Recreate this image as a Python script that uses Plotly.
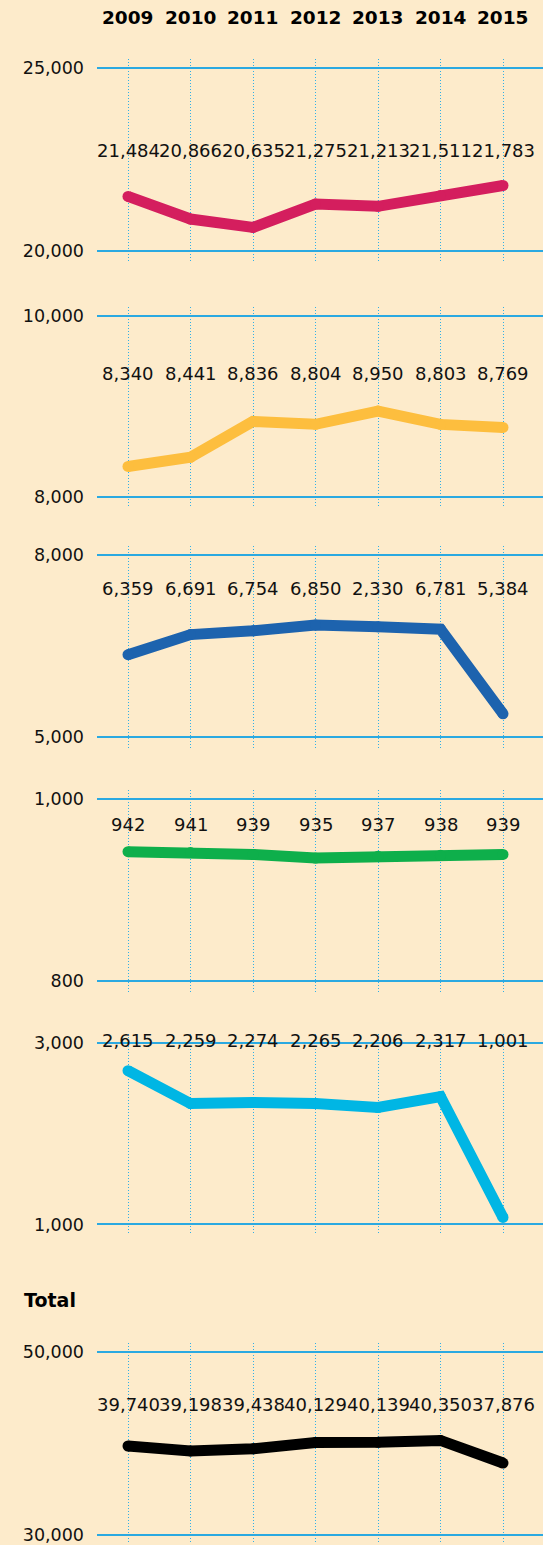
import plotly.graph_objects as go

# ---------------- data ----------------
years = ["2009", "2010", "2011", "2012", "2013", "2014", "2015"]

red_values = [21484, 20866, 20635, 21275, 21213, 21511, 21783]
red_labels = [21484, 20866, 20635, 21275, 21213, 21511, 21783]

yellow_values = [8340, 8441, 8836, 8804, 8950, 8803, 8769]
yellow_labels = [8340, 8441, 8836, 8804, 8950, 8803, 8769]

blue_values = [6359, 6691, 6754, 6850, 6820, 6781, 5384]
blue_labels = [6359, 6691, 6754, 6850, 2330, 6781, 5384]

green_values = [942, 941, 939, 935, 937, 938, 939]
green_labels = [942, 941, 939, 935, 937, 938, 939]

cyan_values = [2692, 2330, 2341, 2330, 2286, 2407, 1077]
cyan_labels = [2615, 2259, 2274, 2265, 2206, 2317, 1001]

total_values = [39740, 39198, 39438, 40129, 40139, 40350, 37876]
total_labels = [39740, 39198, 39438, 40129, 40139, 40350, 37876]

axis_ticks = [(20000, 25000), (8000, 10000), (5000, 8000), (800, 1000), (1000, 3000), (30000, 50000)]

# ---------------- layout constants (pixels) ----------------
W, H = 543, 1545
BG = "#FDEBCB"
GRID = "#2BA9E1"
VGRID = "#2FB0E8"
FONT = "DejaVu Sans"

panels = [
    # (top, bottom, grid_top, grid_bottom, label_y)
    (58, 261, 67, 250, 150),
    (306, 508, 315, 497, 373),
    (546, 749, 555, 737, 588),
    (790, 992, 799, 981, 825),
    (1034, 1236, 1043, 1225, 1041),
    (1344, 1545, 1353, 1536, 1405),
]
series = [
    (red_values, red_labels, "#D41E5E"),
    (yellow_values, yellow_labels, "#FDBE3E"),
    (blue_values, blue_labels, "#1D63AE"),
    (green_values, green_labels, "#0EAF4B"),
    (cyan_values, cyan_labels, "#00B6E4"),
    (total_values, total_labels, "#000000"),
]

PLOT_LEFT = 97


def py(px):
    return 1 - px / H


fig = go.Figure()
annotations = []

for i, ((vals, labs, color), (top, bot, gt, gb, ly), (lo, hi)) in enumerate(zip(series, panels, axis_ticks)):
    n = "" if i == 0 else str(i + 1)
    fig.add_trace(go.Scatter(
        x=years, y=vals, mode="lines+markers",
        line=dict(color=color, width=11),
        marker=dict(color=color, size=11),
        xaxis="x" + n, yaxis="y" + n, showlegend=False, hoverinfo="skip",
    ))
    per = (hi - lo) / (gb - gt)
    yr = [lo - (bot - gb) * per, hi + (gt - top) * per]
    fig.update_layout(**{
        "xaxis" + n: dict(
            domain=[PLOT_LEFT / W, 1], range=[-0.496, 6.64], type="category",
            showgrid=True, griddash="1px,2px", gridcolor=VGRID, gridwidth=1,
            showticklabels=False, zeroline=False, showline=False,
            anchor="y" + n, fixedrange=True,
        ),
        "yaxis" + n: dict(
            domain=[py(bot), py(top)], range=yr,
            tickvals=[lo, hi], ticktext=[f"{lo:,}", f"{hi:,}"],
            tickfont=dict(family=FONT, size=17.5, color="#111111"),
            showgrid=True, gridcolor=GRID, gridwidth=1.5,
            zeroline=False, showline=False, ticks="", ticklabelstandoff=12,
            ticklabeloverflow="allow",
            anchor="x" + n, fixedrange=True,
        ),
    })
    for k, lab in enumerate(labs):
        annotations.append(dict(
            x=k, xref="x" + n, y=py(ly), yref="paper",
            text=f"{lab:,}", showarrow=False, xanchor="center", yanchor="middle",
            font=dict(family=FONT, size=18, color="#111111"),
        ))

# year headers
for k, yv in enumerate(years):
    annotations.append(dict(
        x=k, xref="x", y=py(16.5), yref="paper", text=f"<b>{yv}</b>",
        showarrow=False, xanchor="center", yanchor="middle",
        font=dict(family=FONT, size=18.5, color="#000000"),
    ))

annotations.append(dict(
    x=22 / W, xref="paper", y=py(1301), yref="paper", text="<b>Total</b>",
    showarrow=False, xanchor="left", yanchor="middle",
    font=dict(family=FONT, size=19, color="#000000"),
))

fig.update_layout(
    width=W, height=H, autosize=False,
    margin=dict(l=0, r=0, t=0, b=0),
    paper_bgcolor=BG, plot_bgcolor=BG,
    annotations=annotations,
)

fig.write_html(
    "out.html",
    config={"displayModeBar": False},
    post_script="document.body.style.margin='0';document.body.style.background='%s';" % BG,
)
